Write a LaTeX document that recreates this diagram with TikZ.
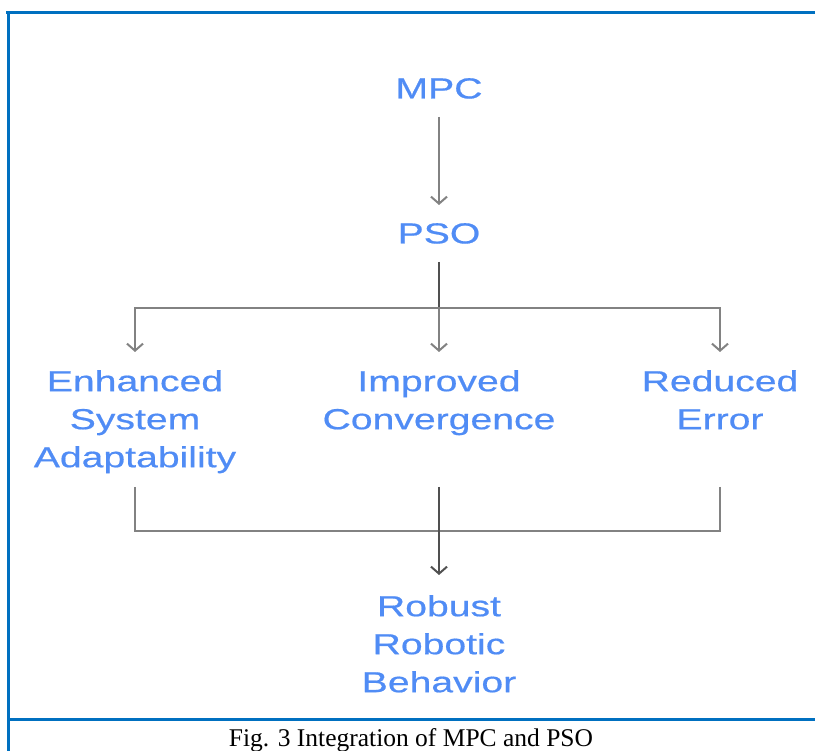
\documentclass[tikz,border=0pt]{standalone}
\usepackage{fontspec}
\setmainfont{Liberation Serif}
\newfontfamily\lblfont[FakeStretch=1.35,FakeBold=0.6]{Liberation Sans}
\usetikzlibrary{arrows.meta}
\definecolor{frameblue}{RGB}{0,112,192}
\definecolor{lblblue}{RGB}{80,140,245}
\definecolor{sidegray}{RGB}{130,130,130}
\definecolor{stemgray}{RGB}{80,80,80}
\tikzset{
  lbl/.style={inner sep=0pt, anchor=north, align=center, text=lblblue,
    font=\lblfont\fontsize{29}{38}\selectfont},
  captext/.style={inner sep=0pt, anchor=base, font=\fontsize{25.5}{30}\selectfont},
  frameline/.style={draw=frameblue, line width=3pt},
  conn/.style={draw=sidegray, line width=2pt},
  stem/.style={draw=stemgray, line width=2.2pt},
  tip/.style={-{Straight Barb[length=7pt,width=16pt,line width=2pt]}}
}
\begin{document}
\begin{tikzpicture}[x=1pt,y=-1pt]
\useasboundingbox (0,0) rectangle (815,751);
% frame
\coordinate (ftl) at (6,13);
\coordinate (ftr) at (815,13);
\coordinate (fl) at (8,11.5);
\coordinate (fbl) at (8,751);
\coordinate (dl) at (8,719);
\coordinate (dr) at (815,719);
\draw[frameline] (ftl) -- (ftr);
\draw[frameline] (fl) -- (fbl);
\draw[frameline] (dl) -- (dr);
% nodes
\node[lbl] (mpc) at (439,78) {MPC};
\node[lbl] (pso) at (439,223) {PSO};
\node[lbl] (enh) at (135,370) {Enhanced\\System\\Adaptability};
\node[lbl] (imp) at (439,370) {Improved\\Convergence};
\node[lbl] (red) at (720,370) {Reduced\\Error};
\node[lbl] (rob) at (439,595) {Robust\\Robotic\\Behavior};
\node[captext] (caption) at (411,746) {Fig. 3 Integration of MPC and PSO};
% junctions
\coordinate (split) at (439,308);
\coordinate (top2) at (439,487);
\coordinate (merge) at (439,531);
% connectors
\draw[conn,tip,shorten <=18pt,shorten >=18pt] (mpc.south) -- (pso.north);
\draw[stem,shorten <=18pt] (pso.south) -- (split);
\draw[conn,tip,shorten >=18pt] (split) -| (enh.north);
\draw[conn,tip,shorten >=18pt] (split) -| (red.north);
\draw[conn,tip,shorten >=18pt] (split) -- (imp.north);
\draw[conn] (enh.south |- top2) |- (merge);
\draw[conn] (red.south |- top2) |- (merge);
\draw[stem,tip,shorten >=20pt] (top2) -- (rob.north);
\end{tikzpicture}
\end{document}
